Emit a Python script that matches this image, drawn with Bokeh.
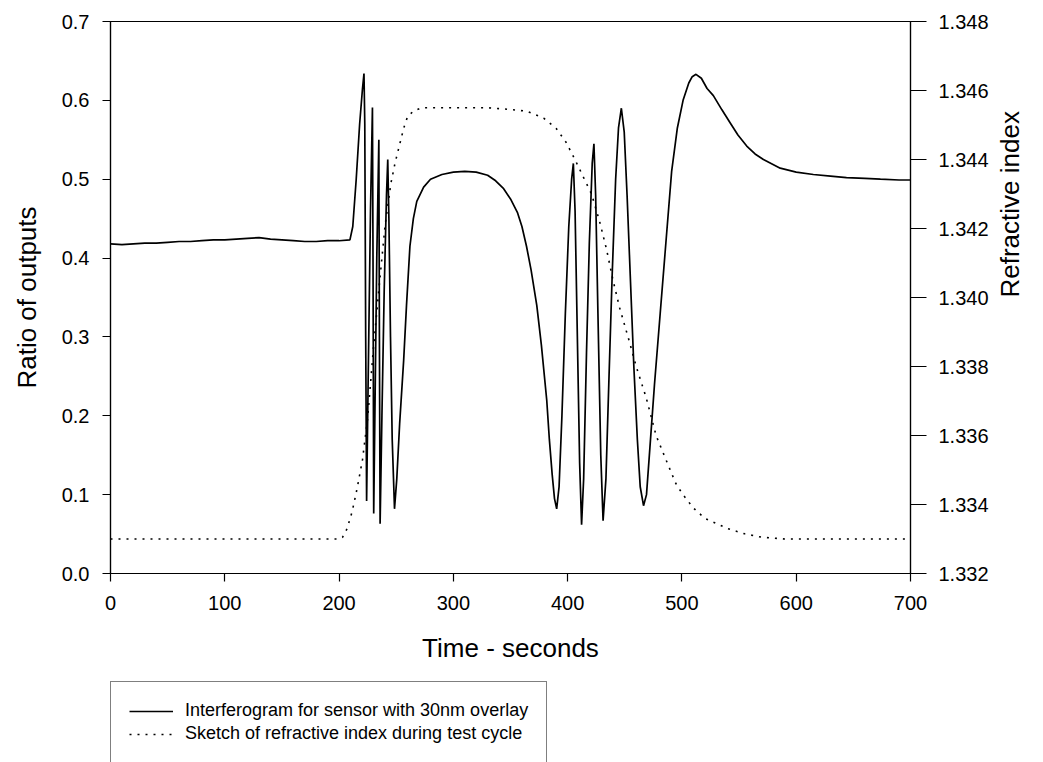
import math
from bokeh.plotting import figure
from bokeh.layouts import column
from bokeh.models import Range1d, LinearAxis, Legend, LegendItem, FixedTicker, NumeralTickFormatter
from bokeh.embed import file_html
from bokeh.resources import INLINE

# ---- data: interferogram (time in s, ratio of outputs) ----
time_s = [0, 10, 20, 30, 40, 50, 60, 70, 80, 90, 100, 110, 120, 130, 140, 150, 160, 170, 180, 190, 200,
          209.5, 212, 215, 218, 220.5, 221.8, 222.5, 223.3, 224.1, 225.5, 227.5, 229.2, 229.7, 230.3,
          231.5, 233, 234.8, 235.3, 235.9, 237.5, 239.5, 241.5, 242.6, 243.6, 245, 246.5, 248.5,
          250.5, 253, 256.5, 259, 262, 265, 268, 274, 280, 290, 300, 310, 320, 330, 337, 344, 350,
          356, 360, 364, 368, 373, 377, 381.7, 384, 386.5, 388.5, 390.4, 392.5, 395, 398, 401, 403.5,
          405, 406.5, 408.5, 410.5, 412.2, 414, 416.5, 419, 421.5, 423, 424.5, 426.5, 429, 431,
          433.5, 436, 439, 442, 444.5, 447, 449.5, 452, 455, 458, 461, 463.5, 466.4, 469, 472, 476,
          481, 486, 491, 496, 501, 506, 509, 512.3, 517, 522, 527.5, 535, 542, 549, 556.7, 564,
          571.3, 586, 600, 615, 630, 644, 660, 673.7, 690, 700]
ratio = [0.418, 0.417, 0.418, 0.419, 0.419, 0.420, 0.421, 0.421, 0.422, 0.423, 0.423, 0.424, 0.425, 0.426,
         0.424, 0.423, 0.422, 0.421, 0.421, 0.422, 0.422,
         0.423, 0.44, 0.50, 0.57, 0.615, 0.634, 0.57, 0.30, 0.092, 0.25, 0.46, 0.591, 0.40, 0.076,
         0.22, 0.40, 0.550, 0.30, 0.063, 0.20, 0.36, 0.48, 0.525, 0.45, 0.30, 0.17, 0.082,
         0.12, 0.19, 0.27, 0.34, 0.415, 0.45, 0.472, 0.49, 0.50, 0.506, 0.509, 0.510, 0.509, 0.505,
         0.498, 0.488, 0.475,
         0.458, 0.44, 0.415, 0.385, 0.34, 0.29, 0.22, 0.17, 0.125, 0.095, 0.082, 0.11, 0.20, 0.33, 0.44,
         0.50,
         0.52, 0.46, 0.30, 0.14, 0.062, 0.12, 0.28, 0.42, 0.52, 0.545, 0.48, 0.33, 0.15, 0.067,
         0.12, 0.24, 0.38, 0.50, 0.565, 0.590, 0.56, 0.48, 0.37, 0.26, 0.17, 0.11, 0.086, 0.10, 0.16,
         0.24,
         0.33, 0.42, 0.51, 0.565, 0.60, 0.622, 0.630, 0.633, 0.628, 0.615, 0.606, 0.588, 0.572, 0.556,
         0.542, 0.532,
         0.525, 0.514, 0.509, 0.506, 0.504, 0.502, 0.501, 0.500, 0.499, 0.499]

# ---- data: sketch of refractive index ----
ri_time = [0, 100, 200, 203, 207, 211.5, 216, 220.5, 225, 230, 235, 240.3, 245.3, 249, 253.5, 256.5,
           260, 265, 272, 280, 300, 330, 350, 364, 379, 390, 398.6, 406.4, 413.6, 420.9, 428, 434,
           439.7, 445.5, 454.2, 460, 468.7, 477.4, 486, 494.8, 500.6, 510, 520, 530, 540, 555, 570,
           590, 700]
ri_value = [1.3330, 1.3330, 1.3330, 1.33305, 1.3333, 1.3338, 1.3345, 1.3353, 1.3365, 1.3385, 1.3403,
            1.3421, 1.3433, 1.3439, 1.3445, 1.3449, 1.34525, 1.3454, 1.3455, 1.3455, 1.3455,
            1.3455, 1.34545, 1.3454, 1.3452, 1.3449, 1.3445, 1.3440, 1.3435, 1.3430, 1.3422, 1.3414,
            1.3405, 1.3397, 1.3387, 1.3380, 1.3371, 1.3360, 1.3353, 1.3346, 1.3343, 1.3339, 1.3336,
            1.33345, 1.3333, 1.33315, 1.33305, 1.3330, 1.3330]

x_ticks = [0, 100, 200, 300, 400, 500, 600, 700]
left_ticks = [0.0, 0.1, 0.2, 0.3, 0.4, 0.5, 0.6, 0.7]
right_ticks = [1.332, 1.334, 1.336, 1.338, 1.340, 1.342, 1.344, 1.346, 1.348]
legend_labels = ["Interferogram for sensor with 30nm overlay",
                 "Sketch of refractive index during test cycle"]

FONT = "Liberation Sans"
SOLID = dict(line_color="black", line_width=1.7)
DOTTED = dict(line_color="black", line_width=1.6, line_dash="2 6")

p = figure(width=1043, height=678, output_backend="svg", toolbar_location=None,
           x_range=Range1d(0, 700), y_range=Range1d(0, 0.7),
           min_border_left=110, min_border_right=133, min_border_top=21, min_border_bottom=105)
p.extra_y_ranges = {"ri": Range1d(1.332, 1.348)}
p.xgrid.visible = False
p.ygrid.visible = False
p.outline_line_color = "black"
p.outline_line_width = 1.2
p.background_fill_color = "white"
p.border_fill_color = "white"

p.line(time_s, ratio, **SOLID)
p.line(ri_time, ri_value, y_range_name="ri", **DOTTED)

def style_axis(ax, tick_out, standoff, title_standoff):
    ax.axis_line_color = "black"
    ax.axis_line_width = 1.2
    ax.major_tick_line_color = "black"
    ax.major_tick_line_width = 1.2
    ax.major_tick_in = 0
    ax.major_tick_out = tick_out
    ax.minor_tick_line_color = None
    ax.major_label_text_font = FONT
    ax.major_label_text_font_size = "20px"
    ax.major_label_text_color = "black"
    ax.major_label_standoff = standoff
    ax.axis_label_text_font = FONT
    ax.axis_label_text_font_size = "26px"
    ax.axis_label_text_font_style = "normal"
    ax.axis_label_text_color = "black"
    ax.axis_label_standoff = title_standoff

xax = p.xaxis[0]
xax.ticker = FixedTicker(ticks=x_ticks)
xax.axis_label = "Time - seconds"
style_axis(xax, 8, 14, 20)

yax = p.yaxis[0]
yax.ticker = FixedTicker(ticks=left_ticks)
yax.formatter = NumeralTickFormatter(format="0.0")
yax.axis_label = "Ratio of outputs"
style_axis(yax, 8, 13, 17)

rax = LinearAxis(y_range_name="ri", axis_label="Refractive index")
rax.ticker = FixedTicker(ticks=right_ticks)
rax.formatter = NumeralTickFormatter(format="0.000")
style_axis(rax, 16, 12, 18)
try:
    rax.axis_label_orientation = math.pi / 2
except Exception:
    pass
p.add_layout(rax, "right")

# ---- legend strip below the chart (same series drawn out of view, only the legend shows) ----
lg = figure(width=1043, height=84, output_backend="svg", toolbar_location=None,
            x_range=Range1d(0, 700), y_range=Range1d(10, 11),
            x_axis_location=None, y_axis_location=None,
            min_border_left=0, min_border_right=0, min_border_top=0, min_border_bottom=0)
lg.xgrid.visible = False
lg.ygrid.visible = False
lg.outline_line_color = None
r1 = lg.line(time_s, ratio, **SOLID)
r2 = lg.line(ri_time, ri_value, **DOTTED)
legend = Legend(items=[LegendItem(label=legend_labels[0], renderers=[r1]),
                       LegendItem(label=legend_labels[1], renderers=[r2])],
                location=(0, -1))
legend.label_text_font = FONT
legend.label_text_font_size = "18px"
legend.label_text_color = "black"
legend.border_line_color = "black"
legend.border_line_width = 1.2
legend.background_fill_color = "white"
legend.background_fill_alpha = 1.0
legend.padding = 18
legend.spacing = 2
legend.glyph_width = 44
legend.label_standoff = 12
legend.margin = 0
lg.add_layout(legend, "center")

layout = column(p, lg, spacing=0)
open("out.html", "w").write(file_html(layout, INLINE))
